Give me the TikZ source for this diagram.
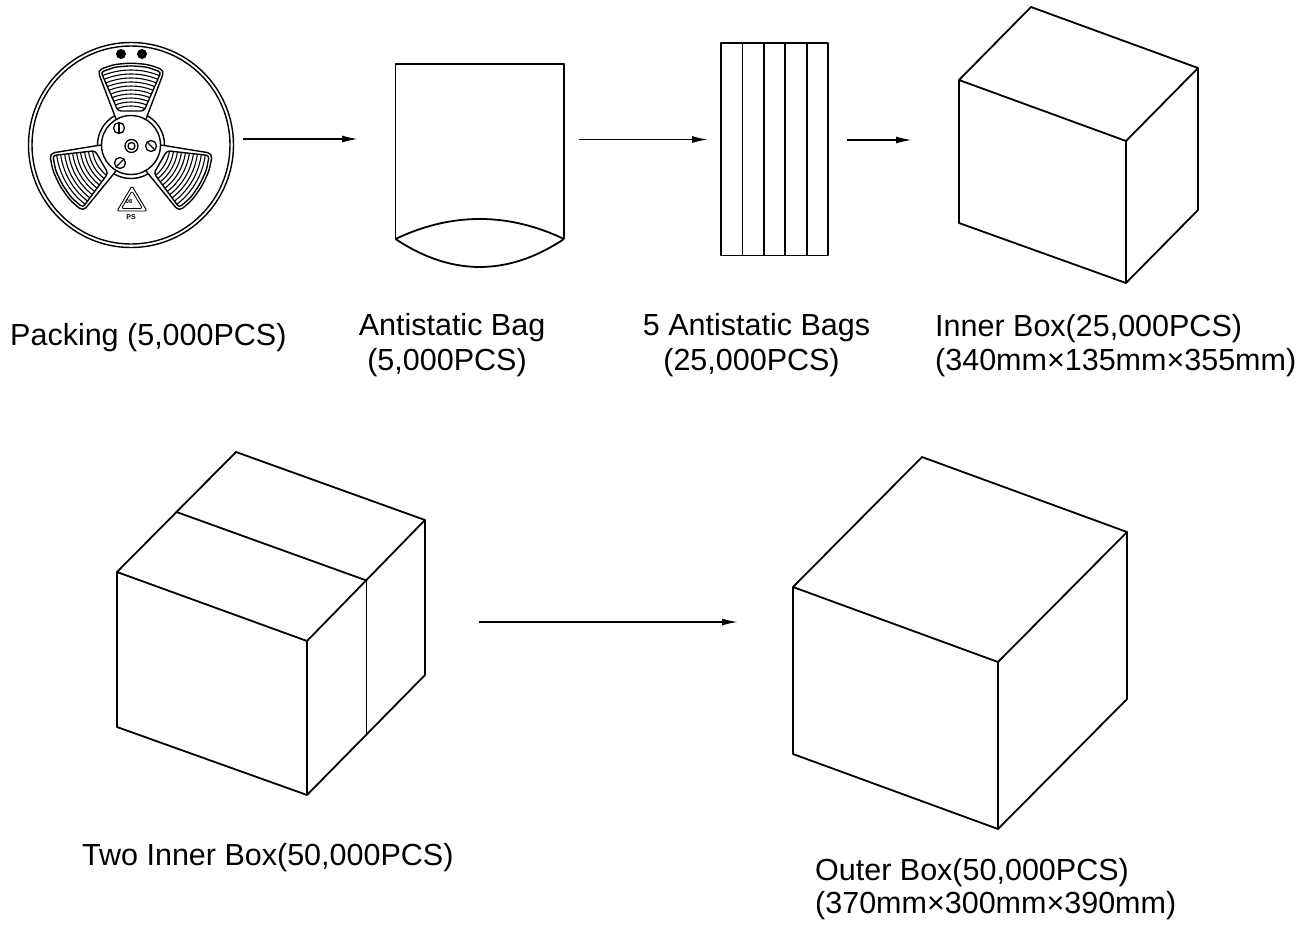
\documentclass[tikz,border=0pt]{standalone}
\usepackage{fontspec}
\setmainfont{Liberation Sans}
\usetikzlibrary{arrows.meta}
\begin{document}
\begin{tikzpicture}[x=1pt,y=-1pt,line join=round,
  edge/.style={line width=1.8pt},
  reel/.style={line width=1.4pt},
  hatch/.style={line width=1.1pt},
  flow/.style={line width=1.6pt,-{Latex[length=16pt,width=7pt]}},
  lbl/.style={font=\fontsize{30.5}{35}\selectfont,inner sep=0pt}]
\useasboundingbox (0,0) rectangle (1306,924);

% ---------- reel ----------
\begin{scope}[shift={(131,145)}]
  \coordinate (reel) at (0,0);
  \draw[reel] (0,0) circle[radius=102.5];
  \draw[reel] (0,0) circle[radius=99];
  \fill (-10,-91) circle[radius=5];
  \fill (11,-91) circle[radius=5];
  \draw[reel] (0,0) circle[radius=33.5];
  \foreach \ang in {0,120,240} {
    \begin{scope}[rotate=\ang]
      \filldraw[reel,fill=white,rounded corners=5pt] (-15,-26) -- (-33.5,-74.8) -- (-17,-80.5) -- (0,-82) -- (17,-80.5) -- (33.5,-74.8) -- (15,-26);
      \draw[reel,rounded corners=3pt] (-13,-34) -- (-30,-73) -- (-15.5,-78) -- (0,-79.2) -- (15.5,-78) -- (30,-73) -- (13,-34) -- cycle;
      \foreach \r in {39,43,...,75} {
        \pgfmathsetmacro\a{21+(\r-39)*0.035}
        \draw[hatch] (-90-\a:\r) arc[start angle=-90-\a,end angle=-90+\a,radius=\r];
      }
    \end{scope}
  }
  \draw[reel] (0,0) circle[radius=29.5];
  % centre hole and screws
  \draw[line width=1.3pt] (0.5,1) circle[radius=6.5];
  \draw[line width=1.3pt] (0.5,1) circle[radius=3.5];
  \draw[line width=1.3pt] (-12,-17) circle[radius=5.5];
  \draw[line width=1.3pt] (-12,-22.5) -- (-12,-11.5);
  \draw[line width=1.3pt] (20,1) circle[radius=5.5];
  \draw[line width=1.3pt] (16,-3) -- (24,5);
  \draw[line width=1.3pt] (-11,18) circle[radius=5.5];
  \draw[line width=1.3pt] (-15,22) -- (-7,14);
  % recycling mark
  \draw[line width=0.9pt,rounded corners=2pt] (1,41) -- (-14,66) -- (16,66) -- cycle;
  \draw[line width=0.8pt,rounded corners=1.5pt] (1,46) -- (-9.5,63.5) -- (11.5,63.5) -- cycle;
  \node[inner sep=0pt,font=\fontsize{6}{6}\selectfont\bfseries] (rc06) at (-2,56) {06};
  \node[inner sep=0pt,font=\fontsize{7}{7}\selectfont\bfseries] (rcps) at (0,72) {PS};
\end{scope}

% ---------- antistatic bag ----------
\coordinate (bag) at (480,150);
\draw[edge] (395.5,239) -- (395.5,64) -- (564,64) -- (564,239);
\draw[edge] (395.5,239) .. controls (451.5,212.3) and (508,212.3) .. (564,239);
\draw[edge] (395.5,239) .. controls (451.5,276.3) and (508,276.3) .. (564,239);

% ---------- five bags ----------
\coordinate (bags) at (774.5,149);
\draw[edge] (721,43) rectangle (828,255.5);
\foreach \x in {742.4,763.8,785.2,806.6} \draw[edge] (\x,43) -- (\x,255.5);

% ---------- inner box ----------
\coordinate (ibA) at (1031,7);
\coordinate (ibB) at (959,80);
\coordinate (ibC) at (1126,141);
\coordinate (ibD) at (1198,68);
\coordinate (ibE) at (959,223);
\coordinate (ibF) at (1126,283);
\coordinate (ibG) at (1198,210);
\draw[edge] (ibB) -- (ibA) -- (ibD) -- (ibC) -- cycle;
\draw[edge] (ibB) -- (ibE) -- (ibF) -- (ibG) -- (ibD);
\draw[edge] (ibC) -- (ibF);

% ---------- two inner boxes ----------
\coordinate (tbP) at (236,452);
\coordinate (tbM1) at (176.5,512);
\coordinate (tbQ) at (117,572);
\coordinate (tbR) at (307,641);
\coordinate (tbM2) at (366.5,580.5);
\coordinate (tbS) at (425,520);
\coordinate (tbQb) at (117,727);
\coordinate (tbRb) at (307,795);
\coordinate (tbM2b) at (366.5,735);
\coordinate (tbSb) at (425,675);
\draw[edge] (tbQ) -- (tbP) -- (tbS) -- (tbR) -- cycle;
\draw[edge] (tbM1) -- (tbM2);
\draw[edge] (tbQ) -- (tbQb) -- (tbRb) -- (tbSb) -- (tbS);
\draw[edge] (tbR) -- (tbRb);
\draw[edge] (tbM2) -- (tbM2b);

% ---------- outer box ----------
\coordinate (obA) at (922,457);
\coordinate (obB) at (793,587);
\coordinate (obC) at (998,662);
\coordinate (obD) at (1127,532);
\coordinate (obE) at (793,754);
\coordinate (obF) at (998,829);
\coordinate (obG) at (1127,699);
\draw[edge] (obB) -- (obA) -- (obD) -- (obC) -- cycle;
\draw[edge] (obB) -- (obE) -- (obF) -- (obG) -- (obD);
\draw[edge] (obC) -- (obF);

% ---------- arrows ----------
\coordinate (a1s) at (243,139);
\coordinate (a1e) at (358,139);
\coordinate (a2s) at (579,139.5);
\coordinate (a2e) at (708,139.5);
\coordinate (a3s) at (847,140);
\coordinate (a3e) at (912,140);
\coordinate (a4s) at (479,622);
\coordinate (a4e) at (738,622);
\draw[flow] (a1s) -- (a1e);
\draw[flow] (a2s) -- (a2e);
\draw[flow] (a3s) -- (a3e);
\draw[flow] (a4s) -- (a4e);

% ---------- labels ----------
\node[lbl,anchor=base west] (l1) at (10,345) {Packing (5,000PCS)};
\node[lbl,anchor=base] (l2a) at (452,335) {Antistatic Bag};
\node[lbl,anchor=base] (l2b) at (447,370) {(5,000PCS)};
\node[lbl,anchor=base] (l3a) at (756.5,335) {5 Antistatic Bags};
\node[lbl,anchor=base] (l3b) at (751.5,370) {(25,000PCS)};
\node[lbl,anchor=base west] (l4a) at (935,336) {Inner Box(25,000PCS)};
\node[lbl,anchor=base west] (l4b) at (935,370) {(340mm×135mm×355mm)};
\node[lbl,anchor=base west] (l5) at (82,865) {Two Inner Box(50,000PCS)};
\node[lbl,anchor=base west] (l6a) at (815,880) {Outer Box(50,000PCS)};
\node[lbl,anchor=base west] (l6b) at (815,913) {(370mm×300mm×390mm)};
\end{tikzpicture}
\end{document}
